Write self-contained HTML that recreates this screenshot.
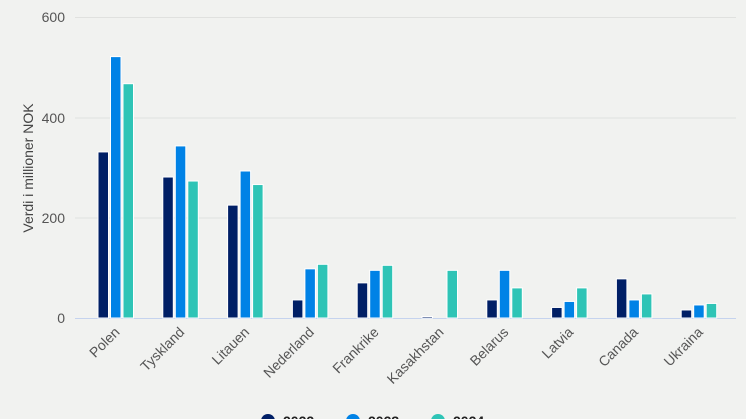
<!DOCTYPE html>
<html><head><meta charset="utf-8"><style>
html,body{margin:0;padding:0;background:#f1f2f0;}
svg{display:block;font-family:"Liberation Sans",sans-serif;}
</style></head><body>
<svg width="746" height="419" viewBox="0 0 746 419">
<rect width="746" height="419" fill="#f1f2f0"/>
<g stroke="#e0e1df" stroke-width="1">
<line x1="75" y1="17.5" x2="736" y2="17.5"/>
<line x1="75" y1="118" x2="736" y2="118"/>
<line x1="75" y1="218" x2="736" y2="218"/>
</g>
<line x1="75" y1="318.5" x2="736" y2="318.5" stroke="#c5d3ee" stroke-width="1"/>
<g font-size="14" fill="#555" text-anchor="end">
<text x="65" y="22">600</text>
<text x="65" y="123">400</text>
<text x="65" y="223">200</text>
<text x="65" y="323">0</text>
</g>
<text transform="translate(33,168) rotate(-90)" font-size="14" fill="#444" text-anchor="middle">Verdi i millioner NOK</text>
<g id="bars" stroke="#fff" stroke-width="1"></g>
<g id="labels" font-size="14" fill="#555" text-anchor="end"></g>
<circle cx="268" cy="421" r="7" fill="#001f66"/>
<circle cx="353" cy="421" r="7" fill="#0082e6"/>
<circle cx="438" cy="421" r="7" fill="#2ec4b6"/>
<g font-size="14" font-weight="bold" fill="#222">
<text x="283" y="426">2022</text>
<text x="368" y="426">2023</text>
<text x="453" y="426">2024</text>
</g>
</svg>
<script>
var d=[["Polen",331,521,467],["Tyskland",281,343,273],["Litauen",225,293,266],["Nederland",36,98,107],["Frankrike",70,95,105],["Kasakhstan",3,0,95],["Belarus",36,95,60],["Latvia",21,33,60],["Canada",78,36,48],["Ukraina",16,26,29]];
var c=["#001f66","#0082e6","#2ec4b6"],ns="http://www.w3.org/2000/svg";
var b=document.getElementById("bars"),l=document.getElementById("labels");
d.forEach(function(r,i){var cx=115.5+i*64.8;
for(var k=0;k<3;k++){if(!r[k+1])continue;var h=r[k+1]*0.5017;var e=document.createElementNS(ns,"rect");
e.setAttribute("x",cx-17.5+k*12.5);e.setAttribute("y",318-h);e.setAttribute("width",10.5);e.setAttribute("height",h);e.setAttribute("fill",c[k]);b.appendChild(e);}
var t=document.createElementNS(ns,"text");t.setAttribute("transform","translate("+(cx+5)+",333) rotate(-45)");t.textContent=r[0];l.appendChild(t);});
</script>
</body></html>
